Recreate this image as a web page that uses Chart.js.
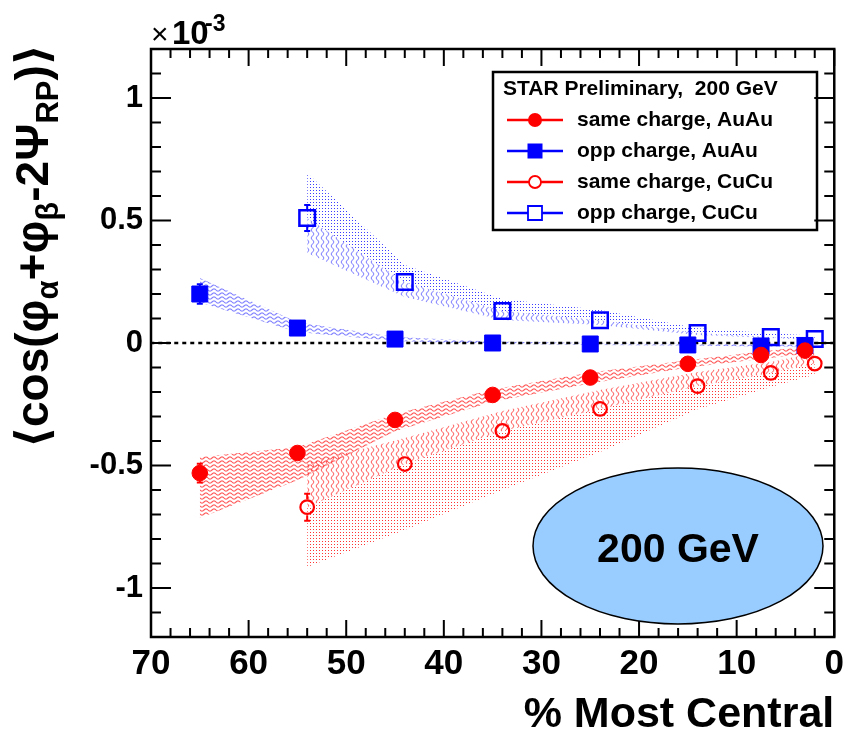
<!DOCTYPE html>
<html>
<head>
<meta charset="utf-8">
<script src="https://cdn.jsdelivr.net/npm/chart.js@4/dist/chart.umd.min.js"></script>
<style>
  html, body { margin: 0; padding: 0; background: #fff; }
  canvas { display: block; }
</style>
</head>
<body>
<canvas id="c" width="850" height="731"></canvas>
<script>
// Centrality bin centres (% most central)
const centralityAuAu = [65, 55, 45, 35, 25, 15, 7.5, 3];
const centralityCuCu = [54, 44, 34, 24, 14, 6.5, 2];

// Correlator values (units of 1e-3)
const sameAuAu = [-0.531, -0.449, -0.314, -0.212, -0.141, -0.085, -0.049, -0.031];
const oppAuAu  = [0.200, 0.061, 0.016, 0.000, -0.004, -0.008, -0.012, -0.010];
const sameCuCu = [-0.670, -0.494, -0.359, -0.269, -0.176, -0.122, -0.084];
const oppCuCu  = [0.510, 0.249, 0.131, 0.093, 0.041, 0.024, 0.016];

// Statistical errors
const sameAuAuErr = [0.038, 0.015, 0.012, 0.010, 0.008, 0.008, 0.008, 0.008];
const oppAuAuErr  = [0.040, 0.015, 0.012, 0.010, 0.008, 0.008, 0.008, 0.008];
const sameCuCuErr = [0.055, 0.020, 0.015, 0.012, 0.012, 0.012, 0.012];
const oppCuCuErr  = [0.053, 0.020, 0.015, 0.012, 0.012, 0.012, 0.012];

// Systematic bands (upper / lower edges)
const sameAuAuHi = [-0.465, -0.424, -0.290, -0.190, -0.120, -0.070, -0.035, -0.015];
const sameAuAuLo = [-0.714, -0.560, -0.360, -0.240, -0.165, -0.100, -0.065, -0.045];
const oppAuAuHi  = [0.265, 0.085, 0.025, 0.006, 0.000, -0.002, -0.006, -0.006];
const oppAuAuLo  = [0.165, 0.045, 0.008, -0.004, -0.008, -0.010, -0.014, -0.014];
const sameCuCuHi = [-0.490, -0.388, -0.278, -0.192, -0.118, -0.078, -0.040];
const sameCuCuLo = [-0.914, -0.763, -0.600, -0.445, -0.270, -0.180, -0.130];
const oppCuCuHi  = [0.694, 0.318, 0.180, 0.135, 0.060, 0.040, 0.030];
const oppCuCuLo  = [0.367, 0.188, 0.094, 0.073, 0.033, 0.020, 0.012];

// Axis ticks
const xTicks = [70, 60, 50, 40, 30, 20, 10, 0];
const yTicks = [-1, -0.5, 0, 0.5, 1];

const RED = '#ff0000';
const BLUE = '#0000ff';

const pts = (xs, ys) => xs.map((x, i) => ({ x: x, y: ys[i] }));

// Fill patterns for the systematic bands
function wavyH(color) {
  const c = document.createElement('canvas'); c.width = 8; c.height = 4;
  const g = c.getContext('2d');
  g.strokeStyle = color; g.lineWidth = 1.2;
  g.beginPath();
  for (let i = 0; i <= 8; i += 0.5) {
    const yy = 2 + 1.1 * Math.sin(i / 8 * 2 * Math.PI);
    if (i === 0) g.moveTo(i, yy); else g.lineTo(i, yy);
  }
  g.stroke();
  return g.createPattern(c, 'repeat');
}
function wavyV(color) {
  const c = document.createElement('canvas'); c.width = 5; c.height = 8;
  const g = c.getContext('2d');
  g.strokeStyle = color; g.lineWidth = 1.1;
  g.beginPath();
  for (let i = 0; i <= 8; i += 0.5) {
    const xx = 2.5 + 1.2 * Math.sin(i / 8 * 2 * Math.PI);
    if (i === 0) g.moveTo(xx, i); else g.lineTo(xx, i);
  }
  g.stroke();
  return g.createPattern(c, 'repeat');
}
function dots(color) {
  const c = document.createElement('canvas'); c.width = 3; c.height = 3;
  const g = c.getContext('2d');
  g.fillStyle = color; g.fillRect(1, 1, 1, 1);
  return g.createPattern(c, 'repeat');
}

function bandPair(xs, hi, lo, pattern, order) {
  return [
    { data: pts(xs, hi), showLine: true, borderWidth: 0, pointRadius: 0, fill: false, order: order },
    { data: pts(xs, lo), showLine: true, borderWidth: 0, pointRadius: 0, fill: '-1', backgroundColor: pattern, order: order }
  ];
}

const datasets = [
  // markers
  { data: pts(centralityAuAu, sameAuAu), showLine: false, pointStyle: 'circle', pointRadius: 7.8,
    backgroundColor: RED, borderColor: RED, borderWidth: 1, order: 0 },
  { data: pts(centralityAuAu, oppAuAu), showLine: false, pointStyle: 'rect', pointRadius: 11.3,
    backgroundColor: BLUE, borderColor: BLUE, borderWidth: 1, order: 0 },
  { data: pts(centralityCuCu, sameCuCu), showLine: false, pointStyle: 'circle', pointRadius: 6.8,
    backgroundColor: 'rgba(0,0,0,0)', borderColor: RED, borderWidth: 2.2, order: 0 },
  { data: pts(centralityCuCu, oppCuCu), showLine: false, pointStyle: 'rect', pointRadius: 11,
    backgroundColor: 'rgba(0,0,0,0)', borderColor: BLUE, borderWidth: 2.5, order: 0 },
  // zero reference line
  { data: [{ x: 0, y: 0 }, { x: 70, y: 0 }], showLine: true, borderColor: '#000', borderWidth: 2.5,
    borderDash: [4, 4], pointRadius: 0, fill: false, order: 1 }
];
datasets.push(...bandPair(centralityAuAu, sameAuAuHi, sameAuAuLo, wavyH('rgba(255,50,50,0.8)'), 5));
datasets.push(...bandPair(centralityAuAu, oppAuAuHi, oppAuAuLo, wavyH('rgba(90,90,255,0.75)'), 5));
datasets.push(...bandPair(centralityCuCu, sameCuCuHi, sameCuCu, wavyV('rgba(255,60,60,0.75)'), 6));
datasets.push(...bandPair(centralityCuCu, sameCuCu, sameCuCuLo, dots('rgba(255,30,30,0.9)'), 6));
datasets.push(...bandPair(centralityCuCu, oppCuCuHi, oppCuCu, dots('rgba(40,40,255,0.9)'), 6));
datasets.push(...bandPair(centralityCuCu, oppCuCu, oppCuCuLo, wavyV('rgba(90,90,255,0.7)'), 6));

const markerSeries = [
  { xs: centralityAuAu, ys: sameAuAu, errs: sameAuAuErr, color: RED, half: 7.5 },
  { xs: centralityAuAu, ys: oppAuAu, errs: oppAuAuErr, color: BLUE, half: 8 },
  { xs: centralityCuCu, ys: sameCuCu, errs: sameCuCuErr, color: RED, half: 8 },
  { xs: centralityCuCu, ys: oppCuCu, errs: oppCuCuErr, color: BLUE, half: 8.5 }
];

// Error bars drawn outside the markers
const errorBars = {
  id: 'errorBars',
  afterDatasetsDraw(chart) {
    const { ctx, scales: { x, y } } = chart;
    ctx.save();
    ctx.lineWidth = 2;
    markerSeries.forEach(s => {
      ctx.strokeStyle = s.color;
      s.xs.forEach((xv, i) => {
        const px = x.getPixelForValue(xv);
        const py = y.getPixelForValue(s.ys[i]);
        const top = y.getPixelForValue(s.ys[i] + s.errs[i]);
        const bot = y.getPixelForValue(s.ys[i] - s.errs[i]);
        if (py - top <= s.half) return;
        ctx.beginPath();
        ctx.moveTo(px, top); ctx.lineTo(px, py - s.half);
        ctx.moveTo(px, py + s.half); ctx.lineTo(px, bot);
        ctx.moveTo(px - 3, top); ctx.lineTo(px + 3, top);
        ctx.moveTo(px - 3, bot); ctx.lineTo(px + 3, bot);
        ctx.stroke();
      });
    });
    ctx.restore();
  }
};

// Frame with ticks on all four sides, axis titles, legend box and energy label
const decorations = {
  id: 'decorations',
  afterDraw(chart) {
    const { ctx, chartArea: a, scales: { x, y } } = chart;
    ctx.save();
    ctx.strokeStyle = '#000';
    ctx.lineWidth = 2.5;
    ctx.strokeRect(a.left, a.top, a.right - a.left, a.bottom - a.top);
    ctx.lineWidth = 2;
    ctx.beginPath();
    for (let k = 0; k <= 35; k++) {
      const px = x.getPixelForValue(k * 2);
      const L = (k % 5 === 0) ? 17 : 9;
      ctx.moveTo(px, a.bottom); ctx.lineTo(px, a.bottom - L);
      ctx.moveTo(px, a.top); ctx.lineTo(px, a.top + L);
    }
    for (let k = -12; k <= 12; k++) {
      const py = y.getPixelForValue(k / 10);
      const L = (k % 5 === 0) ? 20 : 10;
      ctx.moveTo(a.left, py); ctx.lineTo(a.left + L, py);
      ctx.moveTo(a.right, py); ctx.lineTo(a.right - L, py);
    }
    ctx.stroke();

    // x-axis title
    ctx.fillStyle = '#000';
    ctx.textBaseline = 'alphabetic';
    ctx.textAlign = 'right';
    ctx.font = 'bold 43px "Liberation Sans", Arial, sans-serif';
    ctx.fillText('% Most Central', a.right, 727);

    // exponent label
    ctx.textAlign = 'left';
    ctx.font = '30px "Liberation Sans", Arial, sans-serif';
    ctx.fillText('\u00d7', 151, 44);
    ctx.font = 'bold 33px "Liberation Sans", Arial, sans-serif';
    ctx.fillText('10', 172, 44);
    ctx.font = 'bold 23px "Liberation Sans", Arial, sans-serif';
    ctx.fillText('-3', 205, 31);

    // y-axis title, rotated
    ctx.save();
    ctx.translate(48, 448);
    ctx.rotate(-Math.PI / 2);
    const mainF = 'bold 46px "Liberation Sans", Arial, "DejaVu Sans", sans-serif';
    const subF = 'bold 31px "Liberation Sans", Arial, "DejaVu Sans", sans-serif';
    const pieces = [
      ['\u27e8', mainF, 0], ['cos(', mainF, 0], ['\u03c6', mainF, 0], ['\u03b1', subF, 10],
      ['+', mainF, 0], ['\u03c6', mainF, 0], ['\u03b2', subF, 10], ['-2', mainF, 0],
      ['\u03a8', mainF, 0], ['RP', subF, 10], [')', mainF, 0], ['\u27e9', mainF, 0]
    ];
    let cx = 0;
    pieces.forEach(p => {
      ctx.font = p[1];
      ctx.fillText(p[0], cx, p[2]);
      cx += ctx.measureText(p[0]).width;
    });
    ctx.restore();

    // legend
    ctx.lineWidth = 2.5;
    ctx.strokeStyle = '#000';
    ctx.strokeRect(493, 72, 324, 158);
    ctx.font = 'bold 21px "Liberation Sans", Arial, sans-serif';
    ctx.textBaseline = 'middle';
    ctx.fillText('STAR Preliminary,  200 GeV', 503, 89);
    const entries = [
      ['same charge, AuAu', RED, 'circle', true],
      ['opp charge, AuAu', BLUE, 'rect', true],
      ['same charge, CuCu', RED, 'circle', false],
      ['opp charge, CuCu', BLUE, 'rect', false]
    ];
    ctx.font = 'bold 21px "Liberation Sans", Arial, sans-serif';
    entries.forEach((e, i) => {
      const ly = 120 + i * 31;
      ctx.strokeStyle = e[1];
      ctx.fillStyle = e[1];
      ctx.lineWidth = 2.5;
      ctx.beginPath(); ctx.moveTo(507, ly); ctx.lineTo(563, ly); ctx.stroke();
      ctx.beginPath();
      if (e[2] === 'circle') {
        ctx.arc(535, ly, e[3] ? 7 : 6, 0, 2 * Math.PI);
      } else {
        const h = e[3] ? 7.5 : 7;
        ctx.rect(535 - h, ly - h, 2 * h, 2 * h);
      }
      if (e[3]) { ctx.fill(); }
      else { ctx.fillStyle = '#fff'; ctx.fill(); ctx.lineWidth = 1.8; ctx.stroke(); }
      ctx.fillStyle = '#000';
      ctx.fillText(e[0], 577, ly);
    });

    // energy label
    ctx.beginPath();
    ctx.ellipse(678, 546, 145, 78, 0, 0, 2 * Math.PI);
    ctx.fillStyle = 'rgb(153,204,255)';
    ctx.fill();
    ctx.lineWidth = 1.5;
    ctx.strokeStyle = '#000';
    ctx.stroke();
    ctx.fillStyle = '#000';
    ctx.textAlign = 'center';
    ctx.textBaseline = 'alphabetic';
    ctx.font = 'bold 41px "Liberation Sans", Arial, sans-serif';
    ctx.fillText('200 GeV', 678, 562);
    ctx.restore();
  }
};

new Chart(document.getElementById('c'), {
  type: 'line',
  data: { datasets: datasets },
  options: {
    responsive: false,
    animation: false,
    devicePixelRatio: 1,
    layout: { padding: { top: 49, right: 12, left: 0, bottom: 0 } },
    elements: { line: { tension: 0 } },
    plugins: { legend: { display: false }, tooltip: { enabled: false }, title: { display: false } },
    scales: {
      x: {
        type: 'linear', reverse: true, min: 0, max: 70,
        grid: { display: false, drawTicks: false },
        border: { display: false },
        afterBuildTicks: s => { s.ticks = xTicks.map(v => ({ value: v })); },
        afterFit: s => { s.height = 94; },
        ticks: { color: '#000', padding: 6, maxRotation: 0,
          font: { family: '"Liberation Sans", Arial, sans-serif', size: 35, weight: 'bold' } }
      },
      y: {
        type: 'linear', min: -1.2, max: 1.2,
        grid: { display: false, drawTicks: false },
        border: { display: false },
        afterBuildTicks: s => { s.ticks = yTicks.map(v => ({ value: v })); },
        afterFit: s => { s.width = 151; },
        ticks: { color: '#000', padding: 8,
          callback: v => String(v),
          font: { family: '"Liberation Sans", Arial, sans-serif', size: 31, weight: 'bold' } }
      }
    }
  },
  plugins: [errorBars, decorations]
});
</script>
</body>
</html>
